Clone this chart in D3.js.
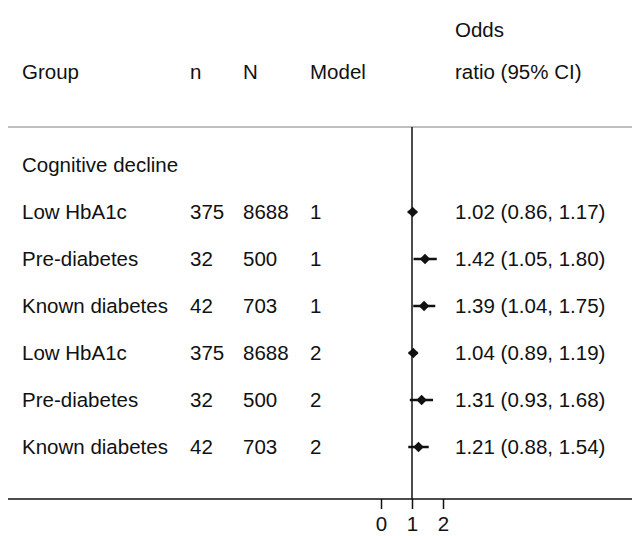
<!DOCTYPE html>
<head>
    <meta charset="utf-8">
    <title>Odds ratio forest plot</title>
</head>
<script src="https://d3js.org/d3.v7.min.js"></script>
<style>
    html, body { margin: 0; padding: 0; background: white; }
    text { font-family: "Liberation Sans", Arial, sans-serif; font-size: 20.5px; fill: #111; }
</style>
<div id="graph"></div>
<script>
    // rows of the table
    var groups = ["Low HbA1c", "Pre-diabetes", "Known diabetes", "Low HbA1c", "Pre-diabetes", "Known diabetes"]
    var nCases = [375, 32, 42, 375, 32, 42]
    var nTotal = [8688, 500, 703, 8688, 500, 703]
    var models = [1, 1, 1, 2, 2, 2]
    var oddsRatio = [1.02, 1.42, 1.39, 1.04, 1.31, 1.21]
    var ciLow = [0.86, 1.05, 1.04, 0.89, 0.93, 0.88]
    var ciHigh = [1.17, 1.80, 1.75, 1.19, 1.68, 1.54]
    var xTicks = [0, 1, 2]

    var width = 632, height = 536

    // column positions
    var colGroup = 22, colN = 190, colTotal = 243, colModel = 310, colOR = 455

    var svg = d3.select("#graph").append("svg")
        .attr("width", width)
        .attr("height", height)

    var rows = ["Cognitive decline"].concat(groups.map(function(d, i){ return "r" + i }))

    var y = d3.scalePoint()
        .domain(rows)
        .range([165, 447])

    var x = d3.scaleLinear()
        .domain([0, 2])
        .range([381, 443])

    var lineTop = 127, lineBottom = 499

    // header
    svg.append("text").attr("x", colOR).attr("y", 30).attr("dy", "0.35em").text("Odds")
    var header = [["Group", colGroup], ["n", colN], ["N", colTotal], ["Model", colModel], ["ratio (95% CI)", colOR]]
    header.forEach(function(h){
        svg.append("text").attr("x", h[1]).attr("y", 72).attr("dy", "0.35em").text(h[0])
    })

    // rules
    svg.append("line").attr("x1", 8).attr("x2", width).attr("y1", lineTop).attr("y2", lineTop)
        .attr("stroke", "#aaa").attr("stroke-width", 1.5)
    svg.append("line").attr("x1", 8).attr("x2", width).attr("y1", lineBottom).attr("y2", lineBottom)
        .attr("stroke", "#111").attr("stroke-width", 1.5)
    svg.append("line").attr("x1", x(1)).attr("x2", x(1)).attr("y1", lineTop).attr("y2", lineBottom)
        .attr("stroke", "#111").attr("stroke-width", 1.5)

    // axis
    var xAxis = d3.axisBottom(x).tickValues(xTicks).tickFormat(d3.format("d")).tickSize(10).tickPadding(7)
    var xg = svg.append("g").attr("transform", "translate(0," + lineBottom + ")").call(xAxis)
    xg.select(".domain").remove()
    xg.selectAll(".tick line").attr("stroke", "#111").attr("stroke-width", 1.5)
    xg.selectAll(".tick text").style("font-size", "20.5px").attr("fill", "#111")
        .style("font-family", "'Liberation Sans', Arial, sans-serif")

    svg.append("text").attr("x", colGroup).attr("y", y("Cognitive decline")).attr("dy", "0.35em").text("Cognitive decline")

    var data = groups.map(function(g, i){
        return {key: "r" + i, group: g, n: nCases[i], N: nTotal[i], model: models[i],
            or: oddsRatio[i], lo: ciLow[i], hi: ciHigh[i]}
    })

    var row = svg.selectAll(".row").data(data).enter().append("g").attr("class", "row")
        .attr("transform", function(d){ return "translate(0," + y(d.key) + ")" })

    row.append("text").attr("x", colGroup).attr("dy", "0.35em").text(function(d){ return d.group })
    row.append("text").attr("x", colN).attr("dy", "0.35em").text(function(d){ return d.n })
    row.append("text").attr("x", colTotal).attr("dy", "0.35em").text(function(d){ return d.N })
    row.append("text").attr("x", colModel).attr("dy", "0.35em").text(function(d){ return d.model })
    row.append("text").attr("x", colOR).attr("dy", "0.35em").text(function(d){
        return d.or.toFixed(2) + " (" + d.lo.toFixed(2) + ", " + d.hi.toFixed(2) + ")"
    })

    row.append("line")
        .attr("x1", function(d){ return x(d.lo) })
        .attr("x2", function(d){ return x(d.hi) })
        .attr("stroke", "#111").attr("stroke-width", 2.5)

    row.append("path")
        .attr("d", d3.symbol().type(d3.symbolDiamond2).size(70))
        .attr("transform", function(d){ return "translate(" + x(d.or) + ",0)" })
        .attr("fill", "#111")
</script>
